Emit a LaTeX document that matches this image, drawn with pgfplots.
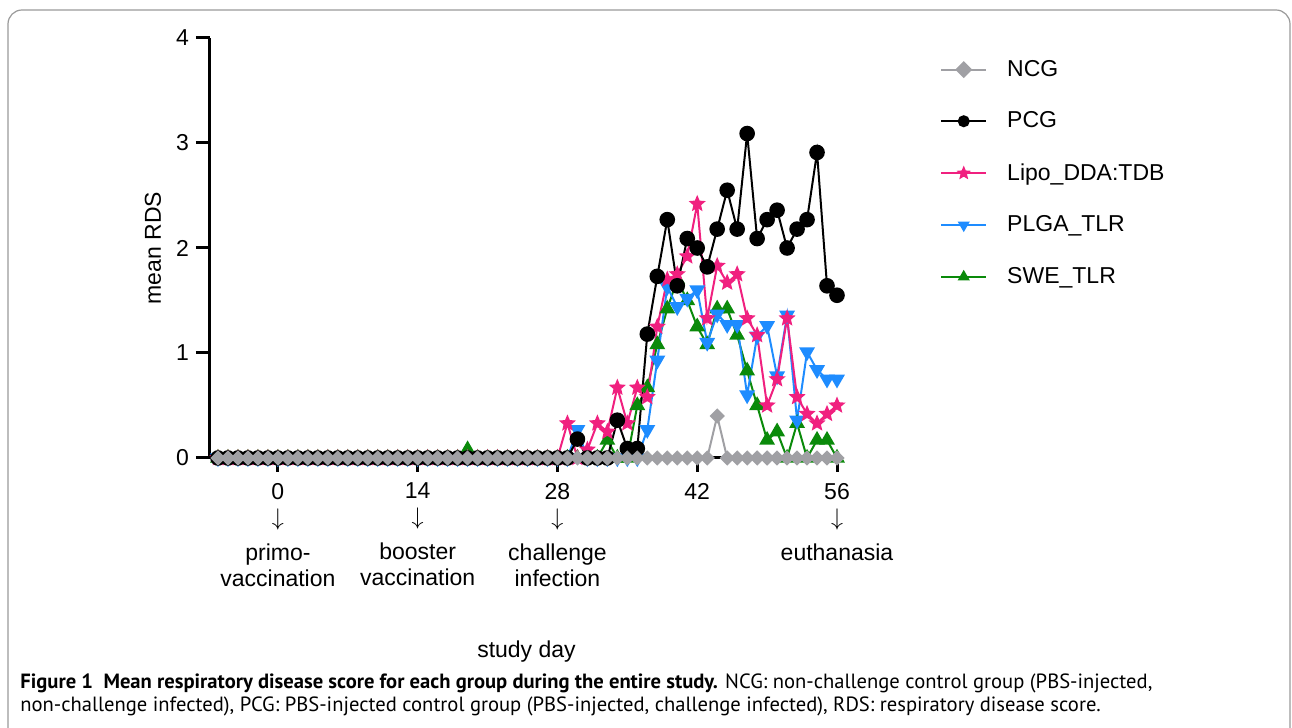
\documentclass[border=0pt]{standalone}
\usepackage{pgfplots}
\usepackage{pgfplotstable}
\pgfplotsset{compat=1.18}
\usepackage{fontspec}
\setmainfont{Liberation Sans}
\newfontfamily\capfont{PT Sans}
\definecolor{ncg}{HTML}{A0A0A4}
\definecolor{lipo}{HTML}{F0207F}
\definecolor{plga}{HTML}{1E8CFF}
\definecolor{swe}{HTML}{0A8A0A}
\definecolor{framec}{HTML}{9A9A9A}

\pgfdeclareplotmark{fstar}{%
  \pgfpathmoveto{\pgfpointpolar{90}{\pgfplotmarksize}}%
  \pgfpathlineto{\pgfpointpolar{126}{0.45\pgfplotmarksize}}%
  \pgfpathlineto{\pgfpointpolar{162}{\pgfplotmarksize}}%
  \pgfpathlineto{\pgfpointpolar{198}{0.45\pgfplotmarksize}}%
  \pgfpathlineto{\pgfpointpolar{234}{\pgfplotmarksize}}%
  \pgfpathlineto{\pgfpointpolar{270}{0.45\pgfplotmarksize}}%
  \pgfpathlineto{\pgfpointpolar{306}{\pgfplotmarksize}}%
  \pgfpathlineto{\pgfpointpolar{342}{0.45\pgfplotmarksize}}%
  \pgfpathlineto{\pgfpointpolar{18}{\pgfplotmarksize}}%
  \pgfpathlineto{\pgfpointpolar{54}{0.45\pgfplotmarksize}}%
  \pgfpathclose
  \pgfusepathqfillstroke
}

\pgfplotstableread{
day ncg pcg lipo plga swe
-6 0 0 0 0 0
-5 0 0 0 0 0
-4 0 0 0 0 0
-3 0 0 0 0 0
-2 0 0 0 0 0
-1 0 0 0 0 0
0 0 0 0 0 0
1 0 0 0 0 0
2 0 0 0 0 0
3 0 0 0 0 0
4 0 0 0 0 0
5 0 0 0 0 0
6 0 0 0 0 0
7 0 0 0 0 0
8 0 0 0 0 0
9 0 0 0 0 0
10 0 0 0 0 0
11 0 0 0 0 0
12 0 0 0 0 0
13 0 0 0 0 0
14 0 0 0 0 0
15 0 0 0 0 0
16 0 0 0 0 0
17 0 0 0 0 0
18 0 0 0 0 0
19 0 0 0 0 0.08
20 0 0 0 0 0
21 0 0 0 0 0
22 0 0 0 0 0
23 0 0 0 0 0
24 0 0 0 0 0
25 0 0 0 0 0
26 0 0 0 0 0
27 0 0 0 0 0
28 0 0 0 0 0
29 0 0 0.33 0 0
30 0 0.18 0 0.27 0
31 0 0 0.08 0 0
32 0 0 0.33 0 0
33 0 0 0.25 0 0.17
34 0 0.36 0.67 0 0
35 0 0.09 0.33 0 0
36 0 0.09 0.67 0 0.50
37 0 1.18 0.58 0.27 0.67
38 0 1.73 1.25 0.93 1.08
39 0 2.27 1.70 1.63 1.42
40 0 1.64 1.75 1.44 1.70
41 0 2.09 1.92 1.52 1.50
42 0 2.00 2.42 1.60 1.25
43 0 1.82 1.33 1.10 1.08
44 0.40 2.18 1.83 1.37 1.42
45 0 2.55 1.67 1.27 1.42
46 0 2.18 1.75 1.27 1.17
47 0 3.09 1.33 0.60 0.83
48 0 2.09 1.17 1.16 0.50
49 0 2.27 0.50 1.26 0.17
50 0 2.36 0.75 0.78 0.25
51 0 2.00 1.33 1.36 0
52 0 2.18 0.58 0.36 0.33
53 0 2.27 0.42 1.01 0
54 0 2.91 0.33 0.84 0.17
55 0 1.64 0.42 0.75 0.17
56 0 1.55 0.50 0.75 0
}\rds

\begin{document}
\begin{tikzpicture}[x=1pt,y=1pt]
\useasboundingbox (0,0) rectangle (646,364);
\begin{scope}
\clip (0,0) rectangle (646,364);
\draw[framec, line width=0.6pt, rounded corners=7pt] (4,-20) rectangle (645,359);
\end{scope}
\begin{axis}[
  at={(105pt,135pt)}, anchor=south west,
  scale only axis, width=316.5pt, height=210pt,
  xmin=-6.8, xmax=56.6, ymin=0, ymax=4,
  clip=false,
  axis x line*=bottom, axis y line*=left,
  axis line style={line width=1.5pt, black},
  tick align=outside,
  major tick length=7pt,
  tick style={line width=1.5pt, black},
  xtick={0,14,28,42,56},
  xticklabels={{0\\$\downarrow$\\[4.5pt]primo-\\vaccination},{14\\$\downarrow$\\[4.5pt]booster\\vaccination},{28\\$\downarrow$\\[4.5pt]challenge\\infection},{42},{56\\$\downarrow$\\[4.5pt]euthanasia}},
  xticklabel style={align=center, anchor=north, yshift=-2pt, font=\fontsize{11.5}{13}\selectfont},
  ytick={0,1,2,3,4},
  yticklabel style={font=\fontsize{11.5}{14}\selectfont},
  /pgf/number format/assume math mode=true,
  xlabel={study day},
  xlabel style={at={(axis description cs:0.5,-0.46)}, anchor=center, font=\fontsize{11.5}{14}\selectfont},
  ylabel={mean RDS},
  ylabel style={at={(axis description cs:-0.09,0.5)}, anchor=center, font=\fontsize{11.5}{14}\selectfont},
  legend style={at={(1.153,0.958)}, anchor=north west, draw=none, fill=none,
    font=\fontsize{11.5}{14}\selectfont, row sep=12.3pt, inner sep=0pt,
    cells={anchor=west},
    /tikz/every odd column/.append style={column sep=8pt}},
  legend image code/.code={\draw[mark repeat=2,mark phase=2,mark size=2.5pt] plot coordinates {(0pt,0pt) (11.25pt,0pt) (22.5pt,0pt)};},
  reverse legend,
]
\addplot[swe, line width=1pt, mark=triangle*, mark size=3.6pt, mark options={fill=swe}] table[x=day,y=swe] {\rds};
\addlegendentry{SWE\_TLR}
\addplot[plga, line width=1pt, mark=triangle*, mark size=3.6pt, mark options={rotate=180, fill=plga}] table[x=day,y=plga] {\rds};
\addlegendentry{PLGA\_TLR}
\addplot[lipo, line width=1pt, mark=fstar, mark size=3.2pt, mark options={fill=lipo}] table[x=day,y=lipo] {\rds};
\addlegendentry{Lipo\_DDA:TDB}
\addplot[black, line width=1pt, mark=*, mark size=3.4pt, mark options={fill=black}] table[x=day,y=pcg] {\rds};
\addlegendentry{PCG}
\addplot[ncg, line width=1pt, mark=square*, mark size=2.2pt, mark options={rotate=45, fill=ncg}] table[x=day,y=ncg] {\rds};
\addlegendentry{NCG}
\end{axis}
\node[anchor=base west, inner sep=0pt, font=\capfont\fontsize{10.3}{12}\selectfont] at (10,19.5) {\textbf{Figure 1\ \ Mean respiratory disease score for each group during the entire study.} NCG: non-challenge control group (PBS-injected,};
\node[anchor=base west, inner sep=0pt, font=\capfont\fontsize{10.3}{12}\selectfont] at (10,8) {non-challenge infected), PCG: PBS-injected control group (PBS-injected, challenge infected), RDS: respiratory disease score.};
\end{tikzpicture}
\end{document}
